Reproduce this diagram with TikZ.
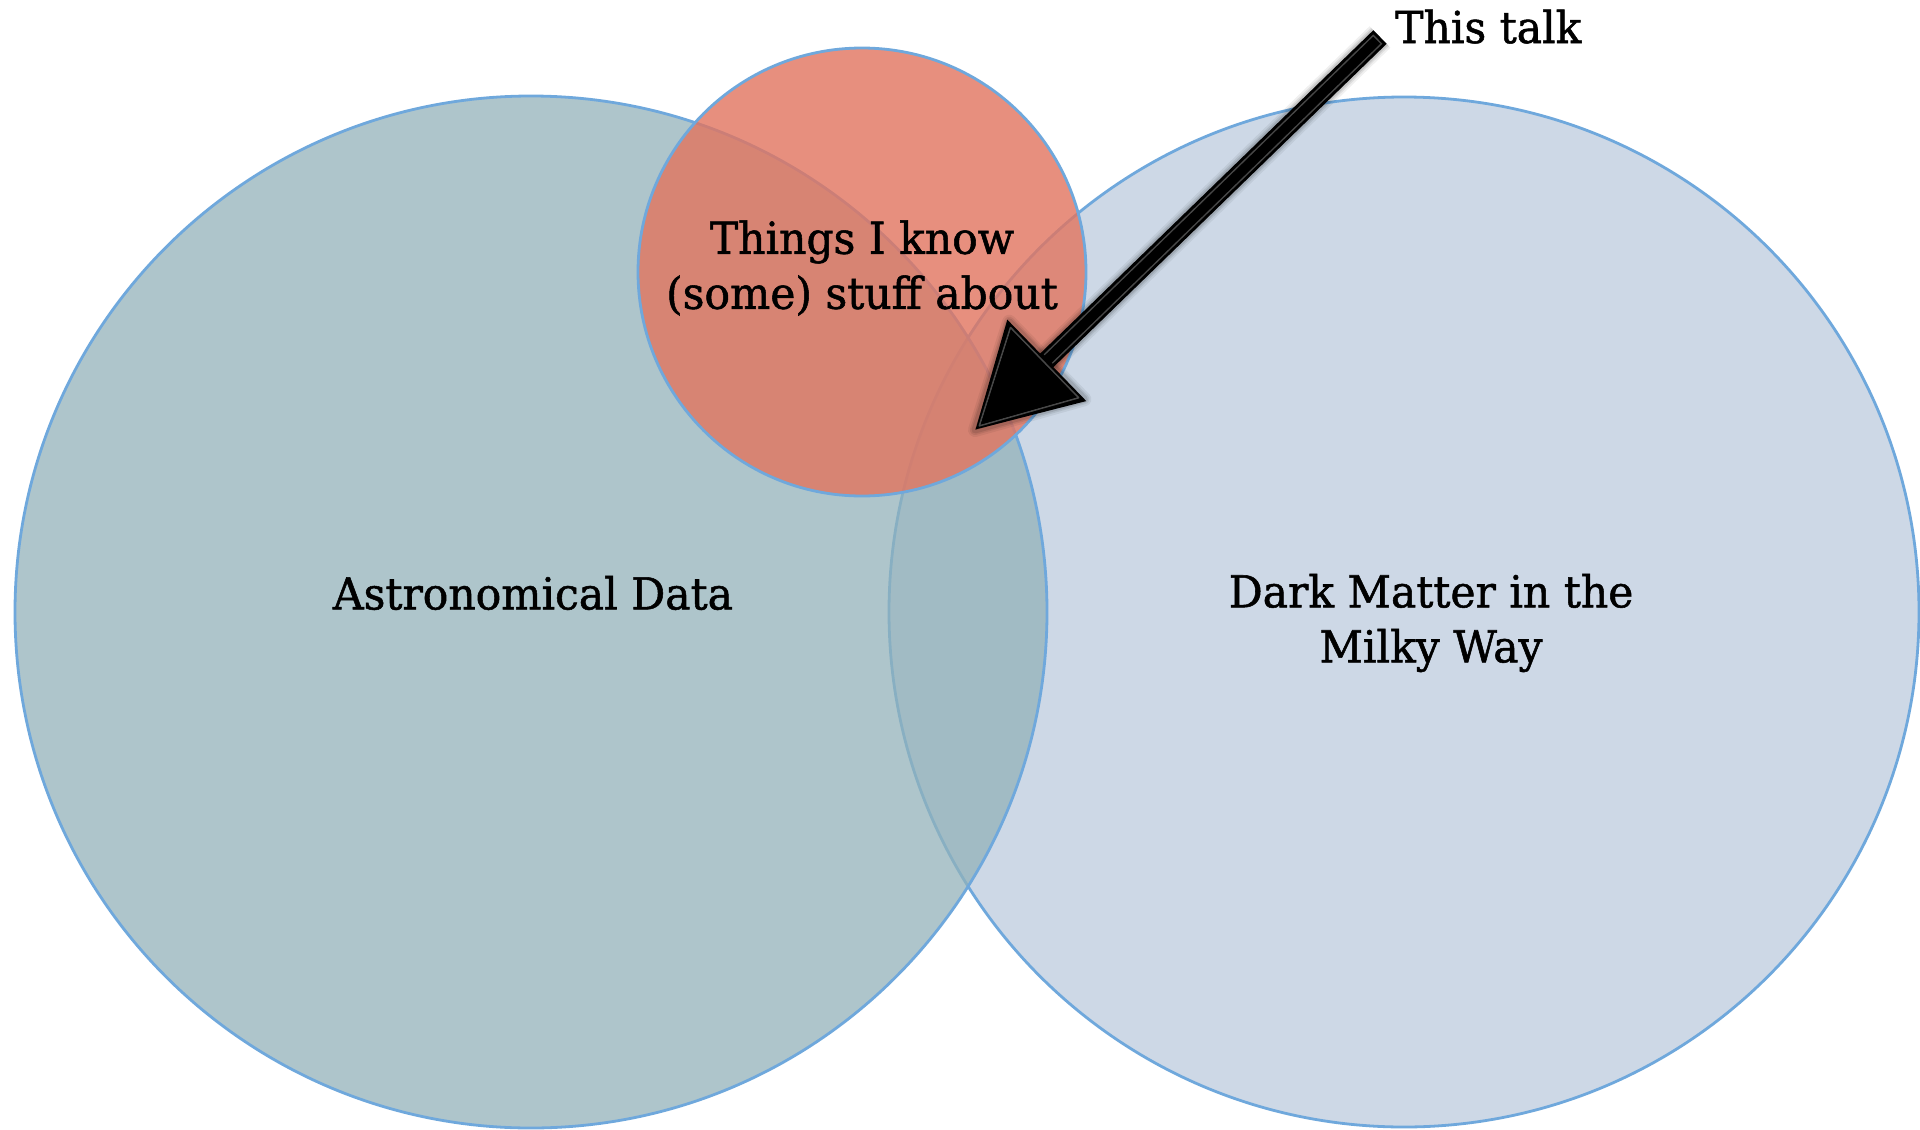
\documentclass[tikz,border=0pt]{standalone}
\usepackage{fontspec}
\setmainfont[FakeStretch=0.965,FakeBold=1.2]{DejaVu Serif}
\usetikzlibrary{arrows.meta,calc}
\definecolor{leftfill}{RGB}{146,178,185}
\definecolor{rightfill}{RGB}{205,216,230}
\definecolor{smallfill}{RGB}{226,116,94}
\definecolor{ringblue}{RGB}{111,168,220}
\tikzset{
  venn/.style={circle, draw=ringblue, line width=2.8pt, inner sep=0pt},
  lbl/.style={font=\fontsize{44}{55}\selectfont, text=black, align=center, inner sep=0pt},
  talkarrow/.style={line width=19pt, -{Triangle[length=100pt,width=108pt]}}
}
\begin{document}
\begin{tikzpicture}[x=1pt,y=-1pt]
\useasboundingbox (0,0) rectangle (1920,1130);
\fill[white] (0,0) rectangle (1920,1130);
% circles
\node[venn, fill=rightfill, minimum size=1030pt] (dm) at (1404,612) {};
\node[venn, fill=leftfill, fill opacity=0.74, minimum size=1032pt] (astro) at (531,612) {};
\node[venn, fill=smallfill, fill opacity=0.8, minimum size=448pt] (know) at (862,272) {};
% labels
\node[lbl] (astrolbl) at (533,593) {Astronomical Data};
\node[lbl] (dmlbl) at (1431,623) {Dark Matter in the\\Milky Way};
\node[lbl] (knowlbl) at (862,268) {Things I know\\(some) stuff about};
\node[lbl, anchor=base west] (talk) at (1395,43) {This talk};
% arrow
\coordinate (tail) at (1380,37);
\coordinate (tip) at (975,430);
\coordinate (hb) at (1046.8,360.4);
\coordinate (hc1) at (1084.4,399.2);
\coordinate (hc2) at (1009.2,321.7);
\coordinate (hcen) at (1022.9,383.6);
\foreach \w/\o in {30/0.06,26/0.08,23/0.1}{
  \draw[line width=\w pt, black, opacity=\o, line join=round] (tail) -- (hb);
  \draw[line width=\w pt - 16pt, black, opacity=\o, line join=round, fill, fill opacity=\o] (tip) -- (hc1) -- (hc2) -- cycle;
}
\draw[talkarrow, black] (tail) -- (tip);
% subtle bevel highlight
\draw[line width=13pt, black!72, shorten <=3pt, shorten >=2pt] (tail) -- (hb);
\draw[line width=10pt, black, shorten <=4.5pt, shorten >=0pt] (tail) -- (hb);
\draw[black!72, line width=1.6pt, line join=round]
  ($(tip)!6pt!(hcen)$) -- ($(hc1)!6pt!(hcen)$) -- ($(hc2)!6pt!(hcen)$) -- cycle;
\fill[black] ($(tip)!8pt!(hcen)$) -- ($(hc1)!8pt!(hcen)$) -- ($(hc2)!8pt!(hcen)$) -- cycle;
\end{tikzpicture}
\end{document}
